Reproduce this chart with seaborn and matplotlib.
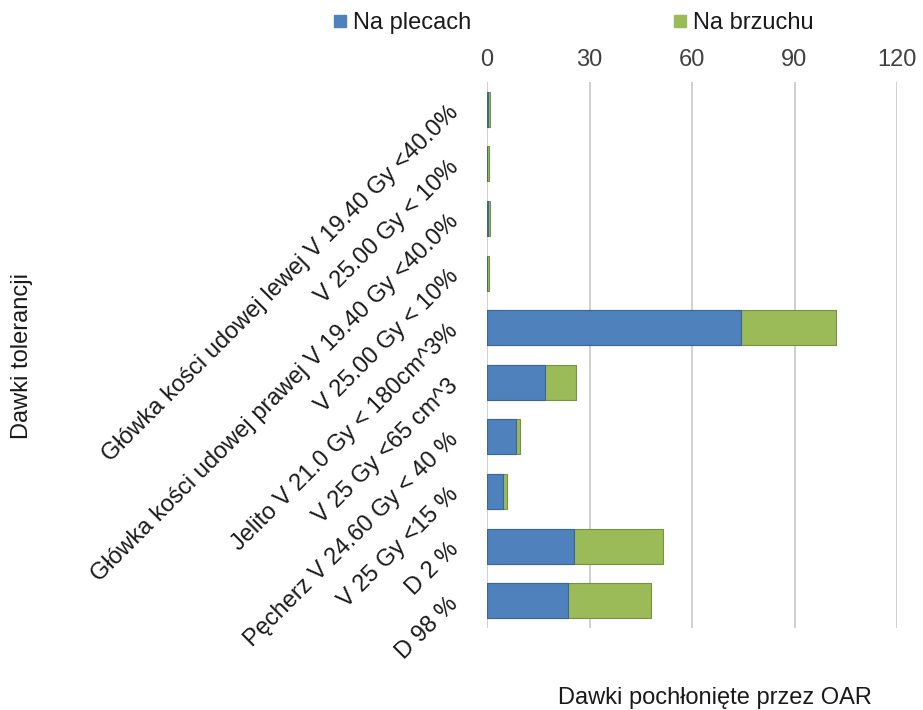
import matplotlib
matplotlib.use("Agg")
import matplotlib.pyplot as plt
from matplotlib.lines import Line2D
import seaborn as sns
import pandas as pd

# Tolerance-dose categories, listed top to bottom
categories = [
    "Główka kości udowej lewej V 19.40 Gy <40.0%",
    "V 25.00 Gy < 10%",
    "Główka kości udowej prawej V 19.40 Gy <40.0%",
    "V 25.00 Gy < 10%",
    "Jelito V 21.0 Gy < 180cm^3%",
    "V 25 Gy <65 cm^3",
    "Pęcherz V 24.60 Gy < 40 %",
    "V 25 Gy <15 %",
    "D 2 %",
    "D 98 %",
]
na_plecach = [0.2, 0.1, 0.3, 0.1, 74.3, 17.1, 8.6, 4.7, 25.4, 23.6]
na_brzuchu = [0.8, 0.6, 0.7, 0.6, 27.7, 8.9, 1.1, 1.2, 26.2, 24.5]
x_ticks = [0, 30, 60, 90, 120]

series_names = ["Na plecach", "Na brzuchu"]
blue = "#4F81BD"
green = "#9BBB59"

keys = [f"c{i}" for i in range(len(categories))]
df = pd.DataFrame({
    "key": keys,
    "plecach": na_plecach,
    "total": [a + b for a, b in zip(na_plecach, na_brzuchu)],
})

sns.set_theme(style="white")
plt.rcParams["font.family"] = ["Liberation Sans", "DejaVu Sans"]
FS = 17

fig = plt.figure(figsize=(9.23, 7.1), dpi=100)
ax = fig.add_axes([487 / 923, 1 - 628 / 710, 410 / 923, 546 / 710])

sns.barplot(data=df, x="total", y="key", order=keys, color=green,
            saturation=1, width=0.64, edgecolor="#76923C", linewidth=0.8,
            ax=ax, zorder=3)
sns.barplot(data=df, x="plecach", y="key", order=keys, color=blue,
            saturation=1, width=0.64, edgecolor="#3A6799", linewidth=0.8,
            ax=ax, zorder=4)

ax.set_xlim(0, 120)
ax.set_xticks(x_ticks)
ax.xaxis.tick_top()
ax.tick_params(axis="x", length=0, pad=8, labelsize=FS, labelcolor="#404040")
ax.grid(axis="x", color="#D0D0D0", linewidth=1.4, zorder=0)
ax.set_axisbelow(True)
for s in ax.spines.values():
    s.set_visible(False)

ax.set_yticks(range(len(categories)))
ax.set_yticklabels(categories, rotation=45, ha="right", va="center",
                   rotation_mode="anchor", fontsize=FS, color="#1a1a1a")
ax.tick_params(axis="y", length=0, pad=23)

ax.set_xlabel("")
ax.set_ylabel("")
fig.text(715 / 923, 1 - 698 / 710, "Dawki pochłonięte przez OAR",
         ha="center", va="center", fontsize=FS, color="#1a1a1a")
fig.text(22 / 923, 1 - 356 / 710, "Dawki tolerancji", rotation=90,
         ha="center", va="center", fontsize=FS, color="#1a1a1a")

handles = [
    Line2D([], [], marker="s", linestyle="none", markersize=8,
           markerfacecolor=blue, markeredgecolor=blue),
    Line2D([], [], marker="s", linestyle="none", markersize=8,
           markerfacecolor=green, markeredgecolor=green),
]
fig.legend(handles, series_names, loc="center", ncol=2,
           bbox_to_anchor=(574 / 923, 1 - 23 / 710), frameon=False,
           fontsize=FS, handlelength=0.5, handletextpad=0.3,
           columnspacing=8.6, labelcolor="#1a1a1a",
           borderpad=0, borderaxespad=0)

fig.savefig("out.png", dpi=100)
